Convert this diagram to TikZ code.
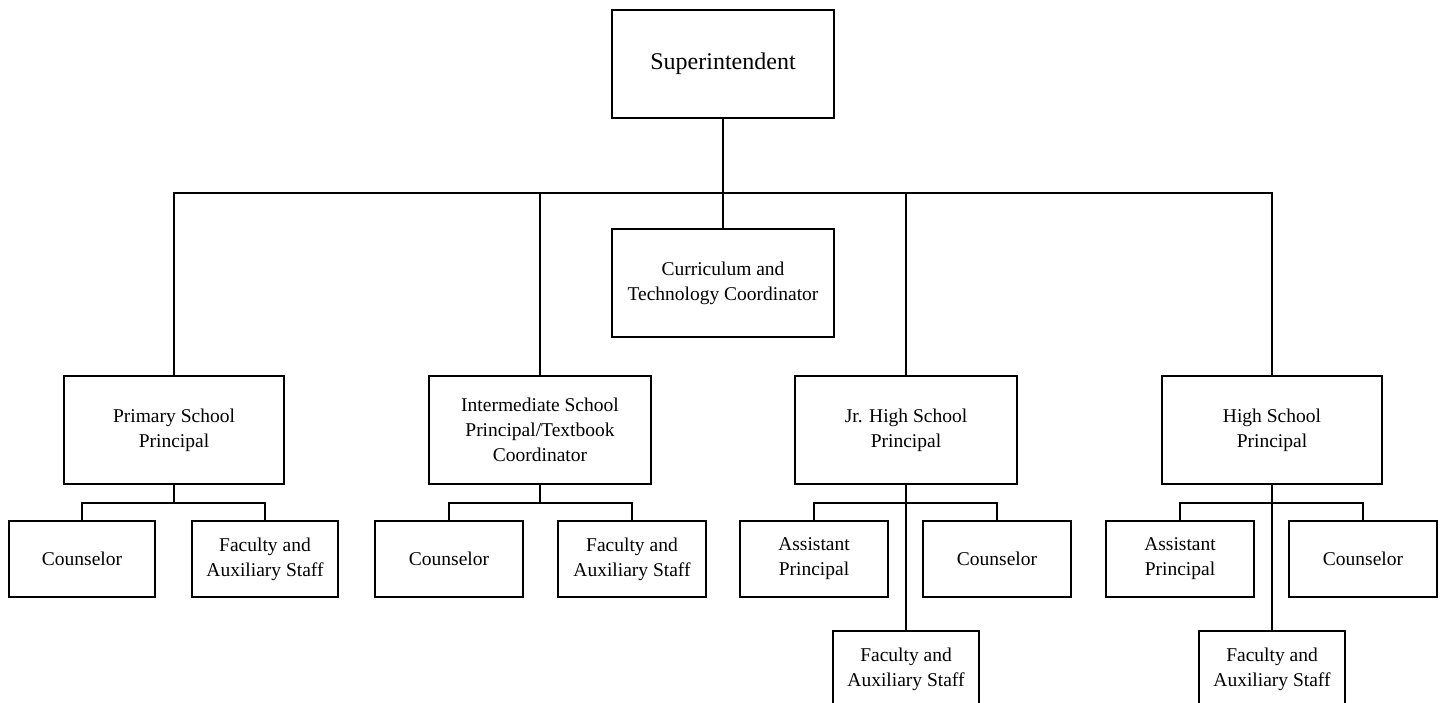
\documentclass[tikz,border=0pt]{standalone}
\usepackage{fontspec}
\setmainfont{Liberation Serif}
\begin{document}
\begin{tikzpicture}[x=1pt,y=-1pt,
  line width=2pt,
  box/.style={draw, line width=2pt, align=center, inner sep=0pt,
    font=\fontsize{19.5}{25}\selectfont},
  bigbox/.style={box, minimum width=222pt, minimum height=108pt},
  smallbox/.style={box, minimum width=148pt, minimum height=76pt},
  topbox/.style={bigbox, font=\fontsize{24}{28}\selectfont}]
\useasboundingbox (0,0) rectangle (1443,702);
\clip (0,0) rectangle (1443,702);

% top level
\node[topbox] (sup) at (723,64) {Superintendent};
\node[bigbox] (cur) at (723,283) {Curriculum and\\Technology Coordinator};

% principals
\node[bigbox, minimum width=220pt] (prim) at (174,430) {Primary School\\Principal};
\node[bigbox] (inter) at (540,430) {Intermediate School\\Principal/Textbook\\Coordinator};
\node[bigbox] (jr) at (906,430) {Jr. High School\\Principal};
\node[bigbox, minimum width=220pt] (high) at (1272,430) {High School\\Principal};

% staff under the principals
\node[smallbox, minimum width=146pt] (pc) at (82,559) {Counselor};
\node[smallbox, minimum width=146pt] (pf) at (265,559) {Faculty and\\Auxiliary Staff};
\node[smallbox] (ic) at (449,559) {Counselor};
\node[smallbox] (if) at (632,559) {Faculty and\\Auxiliary Staff};
\node[smallbox] (ja) at (814,559) {Assistant\\Principal};
\node[smallbox] (jc) at (997,559) {Counselor};
\node[smallbox, minimum width=146pt] (jf) at (906,669) {Faculty and\\Auxiliary Staff};
\node[smallbox] (ha) at (1180,559) {Assistant\\Principal};
\node[smallbox] (hc) at (1363,559) {Counselor};
\node[smallbox, minimum width=146pt] (hf) at (1272,669) {Faculty and\\Auxiliary Staff};

% main distribution bar
\coordinate (bar) at (723,193);
\draw (sup.south) -- (bar);
\draw (bar) -- (cur.north);
\draw (prim.north) |- (bar) -| (high.north);
\draw (inter.north) -- (inter.north |- bar);
\draw (jr.north) -- (jr.north |- bar);

% branches below each principal
\coordinate (pbar) at (174,503);
\draw (prim.south) -- (pbar);
\draw (pc.north) |- (pbar) -| (pf.north);

\coordinate (ibar) at (540,503);
\draw (inter.south) -- (ibar);
\draw (ic.north) |- (ibar) -| (if.north);

\coordinate (jbar) at (906,503);
\draw (jr.south) -- (jf.north);
\draw (ja.north) |- (jbar) -| (jc.north);

\coordinate (hbar) at (1272,503);
\draw (high.south) -- (hf.north);
\draw (ha.north) |- (hbar) -| (hc.north);
\end{tikzpicture}
\end{document}
